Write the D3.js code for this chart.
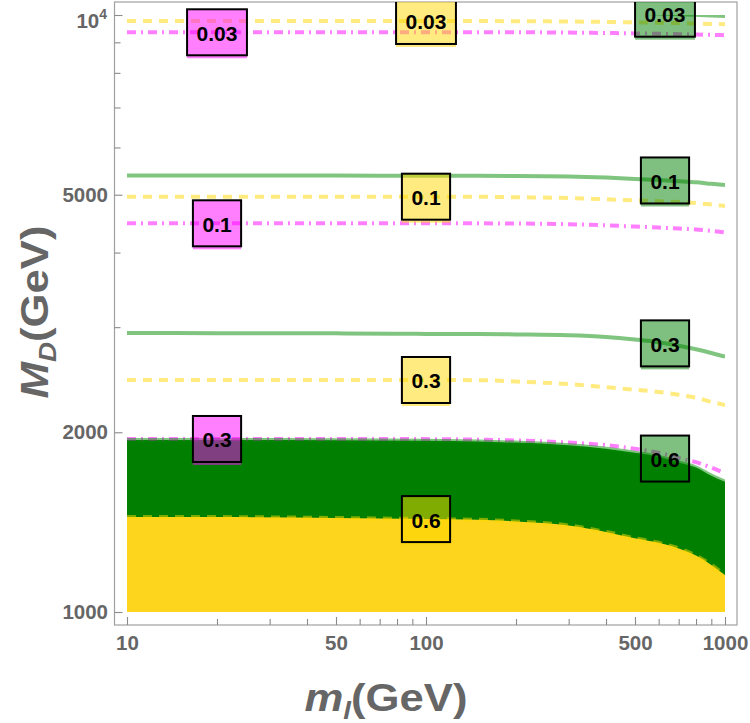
<!DOCTYPE html>
<html><head><meta charset="utf-8">
<script src="https://cdn.jsdelivr.net/npm/d3@7"></script>
<style>body{margin:0;background:#fff}</style>
</head><body>
<svg id="c" width="750" height="723"></svg>
<script>
// ---- data ----
const mGrid = [10,20,50,100,150,200,300,400,500,600,700,800,900,1000];
const green003   = [10200,10200,10200,10200,10195,10185,10160,10130,10095,10060,10030,10005,9983,9961];
const yellow003  = [9772,9772,9772,9772,9770,9764,9752,9737,9722,9707,9692,9677,9663,9648];
const magenta003 = [9355,9355,9355,9355,9355,9355,9344,9330,9315,9300,9286,9275,9264,9250];
const green01    = [5385,5385,5383,5380,5378,5374,5364,5341,5314,5290,5267,5245,5215,5191];
const yellow01   = [4962,4962,4962,4962,4961,4952,4937,4912,4891,4876,4861,4842,4814,4786];
const magenta01  = [4478,4478,4478,4478,4477,4474,4462,4443,4422,4405,4388,4372,4350,4325];
const green03    = [2934,2931,2929,2923,2921,2917,2908,2889,2860,2830,2793,2755,2716,2677];
const yellow03   = [2447,2447,2447,2447,2445,2433,2408,2379,2357,2337,2312,2285,2250,2222];
const magenta03  = [1949,1949,1949,1948,1944,1938,1922,1903,1877,1848,1812,1782,1745,1708];
const green06    = [1941,1941,1940,1935,1930,1922,1902,1877,1848,1820,1780,1746,1692,1653];
const yellow06   = [1443,1442,1437,1431,1427,1418,1396,1362,1329,1306,1278,1243,1199,1153];

const xMajor = [10,50,100,500,1000];
const xMinor = [20,30,40,60,70,80,90,200,300,400,600,700,800,900];
const yMajor = [1000,2000,5000,10000];
const yMinor = [3000,4000,6000,7000,8000,9000];
const labelM = {magenta:20, yellow:100, green:630};

// ---- styles ----
const style = {
  green:   {stroke:"rgba(0,140,0,0.5)",  dash:null,      box:"rgba(0,128,0,0.5)"},
  yellow:  {stroke:"rgba(255,215,0,0.5)", dash:"9,7",     box:"rgba(255,215,0,0.5)"},
  magenta: {stroke:"rgba(255,0,255,0.5)", dash:"9,5,2,5", box:"rgba(255,0,255,0.5)"}
};
const contours = [
  {fam:"green",  lev:"0.03", vals:green003},
  {fam:"yellow", lev:"0.03", vals:yellow003},
  {fam:"magenta",lev:"0.03", vals:magenta003},
  {fam:"green",  lev:"0.1",  vals:green01},
  {fam:"yellow", lev:"0.1",  vals:yellow01},
  {fam:"magenta",lev:"0.1",  vals:magenta01},
  {fam:"green",  lev:"0.3",  vals:green03},
  {fam:"yellow", lev:"0.3",  vals:yellow03},
  {fam:"magenta",lev:"0.3",  vals:magenta03},
  {fam:"green",  lev:"0.6",  vals:green06},
  {fam:"yellow", lev:"0.6",  vals:yellow06}
];

const svg = d3.select("#c");
svg.append("rect").attr("width",750).attr("height",723).attr("fill","#fff");
const frame = {left:114.5, right:737, top:2, bottom:625};
const x = d3.scaleLog().domain([10,1000]).range([127,725]);
const y = d3.scaleLog().domain([1000,10000]).range([612,15]);

const defs = svg.append("defs");
defs.append("clipPath").attr("id","dataClip").append("rect")
  .attr("x",x(10)).attr("y",y(10000)).attr("width",x(1000)-x(10)).attr("height",y(1000)-y(10000));
defs.append("clipPath").attr("id","frameClip").append("rect")
  .attr("x",frame.left).attr("y",frame.top).attr("width",frame.right-frame.left).attr("height",frame.bottom-frame.top);

const pts = vals => mGrid.map((m,i)=>[m,vals[i]]);
const line = d3.line().x(d=>x(d[0])).y(d=>y(d[1])).curve(d3.curveMonotoneX);
const area = d3.area().x(d=>x(d[0])).y0(y(1000)).y1(d=>y(d[1])).curve(d3.curveMonotoneX);

const plot = svg.append("g").attr("clip-path","url(#dataClip)");
plot.append("path").attr("d",area(pts(green06))).attr("fill","#007f00");
plot.append("path").attr("d",area(pts(yellow06))).attr("fill","#fcd51c");

contours.forEach(c=>{
  const s = style[c.fam];
  plot.append("path").attr("d",line(pts(c.vals)))
    .attr("fill","none").attr("stroke",s.stroke).attr("stroke-width",4)
    .attr("stroke-dasharray",s.dash);
});

// ---- frame ----
svg.append("rect").attr("x",frame.left).attr("y",frame.top)
  .attr("width",frame.right-frame.left).attr("height",frame.bottom-frame.top)
  .attr("fill","none").attr("stroke","#a0a0a0").attr("stroke-width",1.2);

// ---- axes ----
const font = "'Liberation Sans', Arial, sans-serif";
function styleAxis(g){
  g.select(".domain").remove();
  g.selectAll("line").attr("stroke","#8a8a8a").attr("stroke-width",1.1);
  g.selectAll("text").attr("fill","#666").attr("font-family",font)
    .attr("font-weight","bold").attr("font-size",20.5);
}
const gxMin = svg.append("g").attr("transform",`translate(0,${frame.bottom})`)
  .call(d3.axisBottom(x).tickValues(xMinor).tickSize(-6).tickFormat(""));
styleAxis(gxMin);
const gx = svg.append("g").attr("transform",`translate(0,${frame.bottom})`)
  .call(d3.axisBottom(x).tickValues(xMajor).tickSize(-8).tickPadding(10.5).tickFormat(d3.format("d")));
styleAxis(gx);

const gyMin = svg.append("g").attr("transform",`translate(${frame.left},0)`)
  .call(d3.axisLeft(y).tickValues(yMinor).tickSize(-6).tickFormat(""));
styleAxis(gyMin);
const gy = svg.append("g").attr("transform",`translate(${frame.left},0)`)
  .call(d3.axisLeft(y).tickValues(yMajor).tickSize(-8).tickPadding(6.5)
    .tickFormat(d=> d===10000 ? "10" : d3.format("d")(d)));
styleAxis(gy);
const t4 = gy.selectAll(".tick").filter(d=>d===10000).select("text")
  .attr("dy","0.62em").attr("x",-7.5);
t4.append("tspan").text("4").attr("font-size",14).attr("dy",-9);

// ---- axis titles ----
const xt = svg.append("text").attr("transform","translate(386,711) scale(1.15,1)")
  .attr("text-anchor","middle").attr("fill","#666").attr("font-family",font)
  .attr("font-weight","bold").attr("font-size",38);
xt.append("tspan").text("m").attr("font-style","italic");
xt.append("tspan").text("l").attr("font-style","italic").attr("font-size",24).attr("dy",8);
xt.append("tspan").text("(GeV)").attr("dy",-8);

const yt = svg.append("text").attr("transform","translate(48,312) rotate(-90) scale(1.15,1)")
  .attr("text-anchor","middle").attr("fill","#666").attr("font-family",font)
  .attr("font-weight","bold").attr("font-size",38);
yt.append("tspan").text("M").attr("font-style","italic");
yt.append("tspan").text("D").attr("font-style","italic").attr("font-size",24).attr("dy",8);
yt.append("tspan").text("(GeV)").attr("dy",-8);

// ---- contour labels ----
function valAt(vals, m){
  const lm = Math.log10(m);
  for(let i=0;i<mGrid.length-1;i++){
    const a=Math.log10(mGrid[i]), b=Math.log10(mGrid[i+1]);
    if(lm>=a && lm<=b){
      const t=(lm-a)/(b-a);
      return Math.pow(10, Math.log10(vals[i])*(1-t)+Math.log10(vals[i+1])*t);
    }
  }
  return vals[vals.length-1];
}
const lab = svg.append("g").attr("clip-path","url(#frameClip)");
contours.forEach(c=>{
  const m = labelM[c.fam];
  const cx = x(m), cy = y(valAt(c.vals,m));
  const g = lab.append("g");
  const t = g.append("text").text(c.lev).attr("x",cx).attr("y",cy+8.5)
    .attr("text-anchor","middle").attr("font-family",font).attr("font-weight","bold")
    .attr("font-size",21).attr("fill","#000");
  const tw = t.node().getComputedTextLength();
  const w = tw+19, h = 46;
  g.insert("rect","text").attr("x",cx-w/2).attr("y",cy-h/2).attr("width",w).attr("height",h+3)
    .attr("fill",style[c.fam].box);
  g.insert("rect","text").attr("x",cx-w/2).attr("y",cy-h/2).attr("width",w).attr("height",h)
    .attr("fill","none").attr("stroke","#000").attr("stroke-width",2);
});
</script>
</body></html>
